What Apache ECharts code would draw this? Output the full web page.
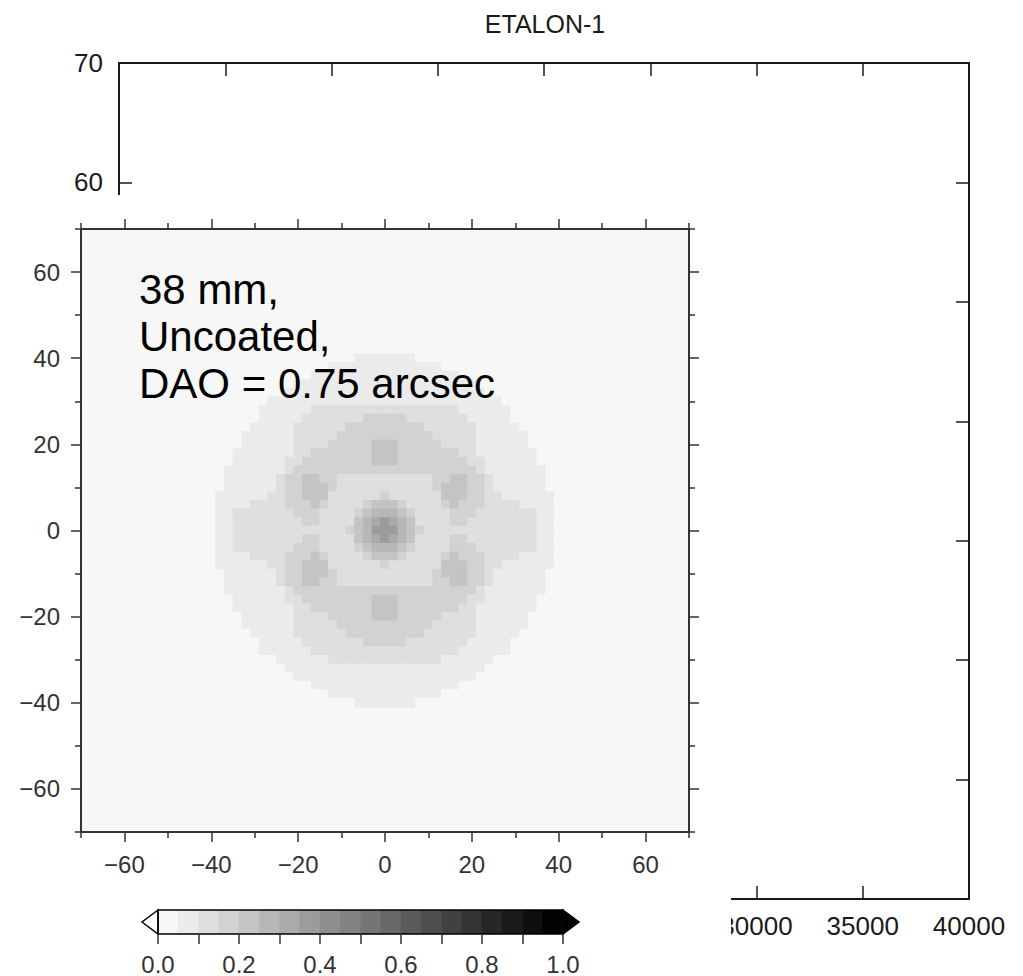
<!DOCTYPE html>
<html><head><meta charset="utf-8">
<script src="https://cdn.jsdelivr.net/npm/echarts@6/dist/echarts.min.js"></script>
<style>html,body{margin:0;padding:0;background:#fff}#c{width:1023px;height:976px}</style>
</head><body><div id="c"></div>
<script>
// ---------------- data ----------------
const titleText = 'ETALON-1';
const noteLines = ['38 mm,', 'Uncoated,', 'DAO = 0.75 arcsec'];

const bgXRange = [0, 40000];
const bgXStep = 5000;
const bgYRange = [0, 70];
const bgYStep = 10;

const insetRange = [-70, 70];
const insetMajorTicks = [-60, -40, -20, 0, 20, 40, 60];
const insetMinorTicks = [-70, -50, -30, -10, 10, 30, 50, 70];

const contourLevels = [0, 0.05, 0.1, 0.15, 0.2, 0.25, 0.3, 0.35, 0.4, 0.45, 0.5,
                       0.55, 0.6, 0.65, 0.7, 0.75, 0.8, 0.85, 0.9, 0.95, 1.0];
const colorbarLabels = [0, 0.2, 0.4, 0.6, 0.8, 1.0];

// Field: contour level index (0..19) of 2x2-unit cells,
// rows from y = 40 down to y = -40, columns x = -40 .. 40  (left20 | centre | right20)
const cellSize = 2;
const fieldTop = 40;
const fieldLeft = -40;
const fieldRows = [
  '00000000000000000111 1 11100000000000000000', // 40
  '00000000000000111111 1 11111100000000000000', // 38
  '00000000000011111111 1 11111111000000000000', // 36
  '00000000001111111111 1 11111111110000000000', // 34
  '00000000011111111111 1 11111111111000000000', // 32
  '00000001111111111111 1 11111111111110000000', // 30
  '00000011111122222222 2 22222222111111000000', // 28
  '00000011111222222233 3 33222222211111000000', // 26
  '00000111112222223333 3 33332222221111100000', // 24
  '00001111112222233333 3 33333222221111110000', // 22
  '00001111112222333334 4 43333322221111110000', // 20
  '00011111112233333334 4 43333333221111111000', // 18
  '00011111122333333334 4 43333333322111111000', // 16
  '00111111123333333333 3 33333333332111111100', // 14
  '00111111233443322222 2 22222334433211111100', // 12
  '00111111233444322222 2 22222344433211111100', // 10
  '01111112233444222222 3 22222244433221111110', // 8
  '01111222233343222234 4 43222234333222211110', // 6
  '01122222223332222345 5 54322223332222222110', // 4
  '01122222222332222456 7 65422223322222222110', // 2
  '01122222222222223457 7 75432222222222222110', // 0
  '01122222222332222456 7 65422223322222222110', // -2
  '01122222223332222345 5 54322223332222222110', // -4
  '01111222233343222234 4 43222234333222211110', // -6
  '01111112233444222222 3 22222244433221111110', // -8
  '00111111233444322222 2 22222344433211111100', // -10
  '00111111233443322222 2 22222334433211111100', // -12
  '00111111123333333333 3 33333333332111111100', // -14
  '00011111122333333334 4 43333333322111111000', // -16
  '00011111112233333334 4 43333333221111111000', // -18
  '00001111112222333334 4 43333322221111110000', // -20
  '00001111112222233333 3 33333222221111110000', // -22
  '00000111112222223333 3 33332222221111100000', // -24
  '00000011111222222233 3 33222222211111000000', // -26
  '00000011111122222222 2 22222222111111000000', // -28
  '00000000111111222222 2 22222211111100000000', // -30
  '00000000011111111111 1 11111111111000000000', // -32
  '00000000001111111111 1 11111111110000000000', // -34
  '00000000000011111111 1 11111111000000000000', // -36
  '00000000000000111111 1 11111100000000000000', // -38
  '00000000000000000111 1 11100000000000000000'  // -40
];

// ---------------- styles ----------------
const greys = ['#f7f7f7','#ebebeb','#dfdfdf','#d2d2d2','#c4c4c4','#b7b7b7','#aaaaaa','#9c9c9c',
               '#8f8f8f','#828282','#757575','#686868','#5b5b5b','#4e4e4e','#414141','#343434',
               '#272727','#1a1a1a','#0e0e0e','#030303'];
const FONT = '"Liberation Sans", Arial, Helvetica, sans-serif';
const dark = '#1a1a1a';
const insetInk = '#333333';

// ---------------- build tables ----------------
const fieldData = [];
fieldRows.forEach((row, r) => {
  const s = row.replace(/\s+/g, '');
  const y = fieldTop - r * cellSize;
  for (let c = 0; c < s.length; c++) {
    fieldData.push([fieldLeft + c * cellSize, y, +s[c]]);
  }
});
const barData = [];
for (let i = 0; i < contourLevels.length - 1; i++) barData.push([contourLevels[i], contourLevels[i + 1], i]);
const endData = [[contourLevels[0], 'left'], [contourLevels[contourLevels.length - 1], 'right'], [0.5, 'frame']];

const minusFmt = v => (v < 0 ? '\u2212' + (-v) : String(v));

function insetX(position, major) {
  return {
    gridIndex: 1, type: 'value', position: position, min: insetRange[0], max: insetRange[1], interval: 10,
    axisLine: { show: major, onZero: false, lineStyle: { color: insetInk, width: 2 } },
    axisTick: { show: true, customValues: major ? insetMajorTicks : insetMinorTicks, length: major ? 10 : 6,
                lineStyle: { color: insetInk, width: 1.5 } },
    axisLabel: { show: major && position === 'bottom', customValues: insetMajorTicks, formatter: minusFmt,
                 fontSize: 24, color: insetInk, fontFamily: FONT, margin: 20 },
    splitLine: { show: false }, z: 20
  };
}
function insetY(position, major) {
  return {
    gridIndex: 1, type: 'value', position: position, min: insetRange[0], max: insetRange[1], interval: 10,
    axisLine: { show: major, onZero: false, lineStyle: { color: insetInk, width: 2 } },
    axisTick: { show: true, customValues: major ? insetMajorTicks : insetMinorTicks, length: major ? 10 : 6,
                lineStyle: { color: insetInk, width: 1.5 } },
    axisLabel: { show: major && position === 'left', customValues: insetMajorTicks, formatter: minusFmt,
                 fontSize: 24, color: insetInk, fontFamily: FONT, margin: 21 },
    splitLine: { show: false }, z: 20
  };
}
function bgAxis(isX, position, labels) {
  return {
    gridIndex: 0, type: 'value', position: position,
    min: isX ? bgXRange[0] : bgYRange[0], max: isX ? bgXRange[1] : bgYRange[1],
    interval: isX ? bgXStep : bgYStep,
    axisLine: { show: true, onZero: false, lineStyle: { color: dark, width: 2 } },
    axisTick: { show: true, inside: true, length: 13, lineStyle: { color: dark, width: 1.5 } },
    axisLabel: { show: labels, fontSize: 26, color: dark, fontFamily: FONT, margin: isX ? 14 : 16,
                 formatter: v => String(v) },
    splitLine: { show: false }, z: 0
  };
}

const chart = echarts.init(document.getElementById('c'), null, { renderer: 'svg', width: 1023, height: 976 });
chart.setOption({
  animation: false,
  backgroundColor: '#ffffff',
  textStyle: { fontFamily: FONT },
  grid: [
    { left: 119, right: 54, top: 63, bottom: 77, z: 0 },
    { left: 81, top: 229, width: 608, height: 603, show: true, backgroundColor: greys[0], borderWidth: 0, z: 10 },
    { left: 158, top: 910, width: 405, height: 25, z: 10 }
  ],
  xAxis: [
    bgAxis(true, 'bottom', true),
    bgAxis(true, 'top', false),
    insetX('bottom', true), insetX('bottom', false),
    insetX('top', true), insetX('top', false),
    {
      gridIndex: 2, type: 'value', position: 'bottom', min: 0, max: 1, interval: 0.1,
      axisLine: { show: false },
      axisTick: { show: true, length: 10, lineStyle: { color: insetInk, width: 1.5 } },
      axisLabel: { customValues: colorbarLabels, formatter: v => v.toFixed(1), fontSize: 24,
                   color: insetInk, fontFamily: FONT, margin: 18 },
      splitLine: { show: false }, z: 20
    }
  ],
  yAxis: [
    bgAxis(false, 'left', true),
    bgAxis(false, 'right', false),
    insetY('left', true), insetY('left', false),
    insetY('right', true), insetY('right', false),
    { gridIndex: 2, type: 'value', min: 0, max: 1, show: false }
  ],
  graphic: [
    { type: 'rect', z: 5, silent: true, shape: { x: 0, y: 195, width: 731, height: 781 }, style: { fill: '#ffffff' } },
    { type: 'text', z: 30, x: 545, y: 24,
      style: { text: titleText, font: '25px ' + FONT, fill: dark, textAlign: 'center', textVerticalAlign: 'middle',
               align: 'center', verticalAlign: 'middle' } },
    { type: 'text', z: 40, x: 139, y: 266,
      style: { text: noteLines.join('\n'), font: '42px ' + FONT, lineHeight: 47, fill: '#000000',
               textAlign: 'left', textVerticalAlign: 'top', align: 'left', verticalAlign: 'top' } }
  ],
  series: [
    {
      type: 'custom', xAxisIndex: 2, yAxisIndex: 2, z: 12, clip: true, silent: true,
      data: fieldData,
      renderItem: (params, api) => {
        const x = api.value(0), y = api.value(1), lv = api.value(2);
        const a = api.coord([x - cellSize / 2, y + cellSize / 2]);
        const b = api.coord([x + cellSize / 2, y - cellSize / 2]);
        return { type: 'rect',
                 shape: { x: a[0] - 0.4, y: a[1] - 0.4, width: b[0] - a[0] + 0.8, height: b[1] - a[1] + 0.8 },
                 style: { fill: greys[lv] } };
      }
    },
    {
      type: 'custom', xAxisIndex: 6, yAxisIndex: 6, z: 12, silent: true,
      data: barData,
      renderItem: (params, api) => {
        const a = api.coord([api.value(0), 1]);
        const b = api.coord([api.value(1), 0]);
        return { type: 'rect', shape: { x: a[0] - 0.3, y: a[1], width: b[0] - a[0] + 0.6, height: b[1] - a[1] },
                 style: { fill: greys[api.value(2)] } };
      }
    },
    {
      type: 'custom', xAxisIndex: 6, yAxisIndex: 6, z: 13, silent: true,
      data: endData,
      renderItem: (params, api) => {
        const kind = endData[params.dataIndex][1];
        if (kind === 'frame') {
          const a = api.coord([0, 1]), b = api.coord([1, 0]);
          return { type: 'rect', shape: { x: a[0], y: a[1], width: b[0] - a[0], height: b[1] - a[1] },
                   style: { fill: 'none', stroke: '#000', lineWidth: 1.5 } };
        }
        const v = api.value(0);
        const t = api.coord([v, 1]), bt = api.coord([v, 0]);
        const dir = kind === 'left' ? -1 : 1;
        const tip = [t[0] + dir * 16, (t[1] + bt[1]) / 2];
        return { type: 'polygon', shape: { points: [t, tip, bt] },
                 style: { fill: kind === 'left' ? '#fff' : '#000', stroke: '#000', lineWidth: 1.5 } };
      }
    }
  ]
});
</script></body></html>
